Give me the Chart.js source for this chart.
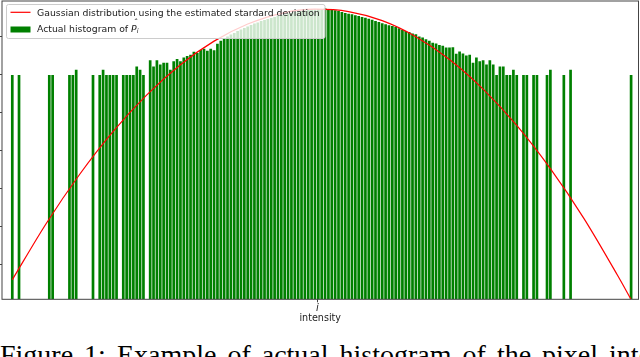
<!DOCTYPE html>
<html>
<head>
<meta charset="utf-8">
<script src="https://cdn.jsdelivr.net/npm/chart.js@4"></script>
<style>
  html, body { margin: 0; padding: 0; background: #fff; }
  #wrap { position: relative; width: 640px; height: 357px; overflow: hidden; }
  #chart { position: absolute; left: 0; top: 0; }
  #caption { position: absolute; left: 0; top: 339px; white-space: nowrap; word-spacing: 4px;
             font-family: "Liberation Serif", serif; font-size: 28px; color: #000; }
</style>
</head>
<body>
<div id="wrap">
  <canvas id="chart" width="640" height="330"></canvas>
  <div id="caption">Figure 1: Example of actual histogram of the pixel intensity</div>
</div>
<script>
// histogram counts per intensity bin (bins 0..184)
const BIN_COUNTS = [
  1, 0, 1, 0, 0, 0, 0, 0, 0, 0,
  0, 1, 1, 0, 0, 0, 0, 1, 1, 2,
  0, 0, 0, 0, 1, 0, 1, 2, 1, 1,
  1, 1, 0, 1, 1, 1, 1, 3, 2, 1,
  0, 7, 3, 7, 4, 5, 5, 2, 6, 8,
  6, 10, 12, 14, 21, 18, 27, 31, 24, 31,
  26, 60, 89, 124, 160, 208, 254, 330, 400, 488,
  595, 722, 880, 1002, 1220, 1390, 1590, 1810, 2060, 2350,
  2680, 2860, 3260, 3480, 3970, 4240, 4530, 4830, 5160, 5510,
  5510, 5880, 5880, 6430, 5640, 5160, 4950, 4530, 3970, 3480,
  3170, 2920, 2560, 2350, 2060, 1880, 1650, 1450, 1220, 1070,
  906, 794, 696, 634, 556, 469, 376, 330, 289, 232,
  214, 156, 137, 111, 89, 69, 63, 51, 46, 37,
  37, 38, 16, 22, 17, 13, 14, 5, 10, 6,
  7, 4, 7, 4, 1, 3, 3, 1, 1, 2,
  1, 0, 1, 1, 0, 1, 1, 0, 0, 1,
  2, 0, 0, 0, 1, 0, 2, 0, 0, 0,
  0, 0, 0, 0, 0, 0, 0, 0, 0, 0,
  0, 0, 0, 0, 1
];

// fitted gaussian, log scale, sampled at these bins
const CURVE_BINS = [0, 10, 20, 30, 40, 50, 60, 70, 80, 90, 100, 110, 120, 130, 140, 150, 160, 170, 180, 184];
const CURVE_LN = [-27.0, -19.65, -13.13, -7.45, -2.63, 1.34, 4.45, 6.70, 8.12, 8.66,
                  8.35, 7.15, 5.04, 2.04, -1.87, -6.66, -12.36, -18.94, -26.45, -29.6];

const Y_TICKS = [-25, -20, -15, -10, -5, 0, 5];
const Y_MIN = -29.58;
const Y_MAX = 9.74;
const X_MIN = -3.06;
const X_MAX = 186.2;
const X_TICK = 90.7;
const X_TICK_LABEL = 'i';
const X_TITLE = 'intensity';
const LINE_LABEL = 'Gaussian distribution using the estimated stardard deviation';
const BAR_LABEL = 'Actual histogram of ';

const barPoints = [];
BIN_COUNTS.forEach((c, i) => {
  if (c > 0) barPoints.push({ x: i, y: Math.log(c) });
});
const curvePoints = CURVE_BINS.map((b, i) => ({ x: b, y: CURVE_LN[i] }));

Chart.defaults.font.family = '"DejaVu Sans", sans-serif';

const framePlugin = {
  id: 'frame',
  afterDatasetsDraw(chart) {
    const { ctx, chartArea: a } = chart;
    ctx.save();
    ctx.strokeStyle = '#444';
    ctx.lineWidth = 1;
    ctx.strokeRect(a.left, a.top, a.right - a.left, a.bottom - a.top);
    ctx.restore();
  }
};

// matplotlib style legend box inside the axes
const legendPlugin = {
  id: 'mplLegend',
  afterDraw(chart) {
    const ctx = chart.ctx;
    const ds = chart.data.datasets;
    ctx.save();
    ctx.beginPath();
    ctx.roundRect(6.5, 4.5, 318.5, 34, 2);
    ctx.fillStyle = 'rgba(255,255,255,0.8)';
    ctx.fill();
    ctx.strokeStyle = '#cccccc';
    ctx.lineWidth = 1;
    ctx.stroke();

    ctx.strokeStyle = ds[0].borderColor;
    ctx.lineWidth = 1.2;
    ctx.beginPath();
    ctx.moveTo(10.5, 12.3);
    ctx.lineTo(30.5, 12.3);
    ctx.stroke();

    ctx.fillStyle = ds[1].backgroundColor;
    ctx.fillRect(10.5, 26.5, 20, 6);

    ctx.fillStyle = '#1a1a1a';
    ctx.textBaseline = 'alphabetic';
    ctx.font = '9.3px "DejaVu Sans"';
    ctx.fillText(ds[0].label, 37, 15.8);
    ctx.fillText(ds[1].label, 37, 31.5);
    let x = 37 + ctx.measureText(ds[1].label).width;
    ctx.font = 'italic 9.3px "DejaVu Sans"';
    ctx.fillText('P', x, 31.5);
    const pw = ctx.measureText('P').width;
    ctx.fillText('\u02C6', x + pw * 0.35, 26);
    ctx.font = 'italic 6.5px "DejaVu Sans"';
    ctx.fillText('i', x + pw, 33.3);
    ctx.restore();
  }
};

new Chart(document.getElementById('chart'), {
  type: 'bar',
  data: {
    datasets: [
      {
        type: 'line',
        label: LINE_LABEL,
        data: curvePoints,
        borderColor: '#ff0000',
        borderWidth: 1.2,
        pointRadius: 0,
        cubicInterpolationMode: 'monotone',
        order: 0
      },
      {
        type: 'bar',
        label: BAR_LABEL,
        data: barPoints,
        backgroundColor: '#008000',
        base: Y_MIN,
        barPercentage: 0.8,
        categoryPercentage: 1,
        order: 1
      }
    ]
  },
  options: {
    responsive: false,
    animation: false,
    layout: { padding: { left: 0, top: 1, right: 1.5, bottom: 0.7 } },
    plugins: { legend: { display: false }, tooltip: { enabled: false } },
    scales: {
      x: {
        type: 'linear',
        min: X_MIN,
        max: X_MAX,
        offset: false,
        afterBuildTicks: ax => { ax.ticks = [{ value: X_TICK }]; },
        afterFit: ax => { ax.height = 30; },
        grid: { drawOnChartArea: false, offset: false, tickLength: 3, color: '#444' },
        border: { display: false },
        ticks: {
          callback: () => X_TICK_LABEL,
          font: { size: 10, style: 'italic' },
          color: '#222',
          padding: 0,
          maxRotation: 0
        },
        title: {
          display: true,
          text: X_TITLE,
          font: { size: 9.6 },
          color: '#222',
          padding: { top: 0, bottom: 5 }
        }
      },
      y: {
        type: 'linear',
        min: Y_MIN,
        max: Y_MAX,
        afterBuildTicks: ax => { ax.ticks = Y_TICKS.map(v => ({ value: v })); },
        afterFit: ax => { ax.width = 2; },
        grid: { drawOnChartArea: false, tickLength: 2, color: '#444' },
        border: { display: false },
        ticks: { display: false }
      }
    }
  },
  plugins: [framePlugin, legendPlugin]
});
</script>
</body>
</html>
